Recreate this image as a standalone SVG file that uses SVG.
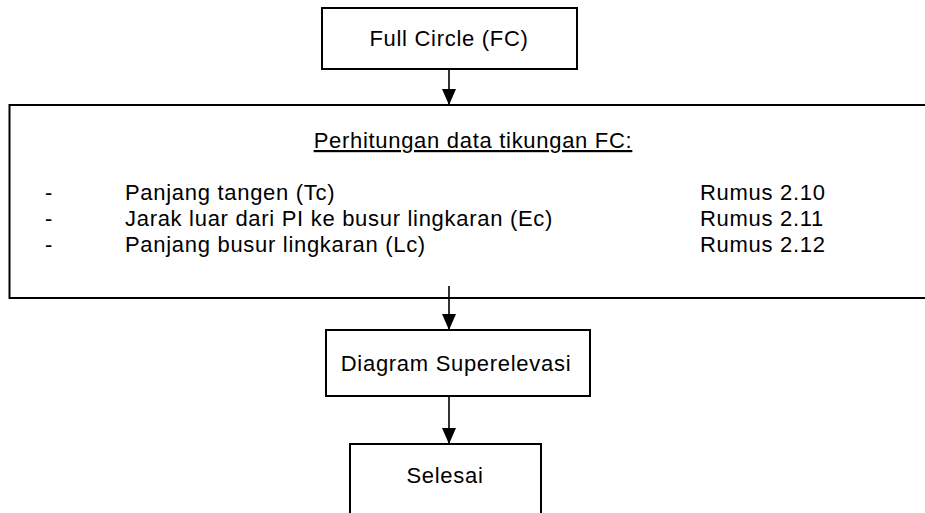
<svg xmlns="http://www.w3.org/2000/svg" width="925" height="513" viewBox="0 0 925 513">
<style>
.box{fill:#fff;stroke:#000;stroke-width:2}
.t{font-family:"Liberation Sans",Arial,sans-serif;font-size:22px;letter-spacing:0.7px;fill:#000}
.c{text-anchor:middle}
.ln{stroke:#000;stroke-width:2;fill:none}
.ar{stroke:#000;stroke-width:1.6;fill:none}
</style>
<defs>
<marker id="ah" markerWidth="16" markerHeight="14" refX="15" refY="7" orient="auto" markerUnits="userSpaceOnUse" viewBox="0 0 16 14">
<path d="M0,0 L16,7 L0,14 z" fill="#000"/>
</marker>
</defs>
<rect width="925" height="513" fill="#fff"/>
<g id="fc">
<rect class="box" x="322" y="8" width="255" height="61"/>
<text class="t c" x="449" y="46">Full Circle (FC)</text>
</g>
<g id="perhitungan">
<path class="ln" d="M930,105 H9.5 V298 H930"/>
<text class="t c" x="473" y="148" text-decoration="underline">Perhitungan data tikungan FC:</text>
<text class="t" x="45" y="200">-</text>
<text class="t" x="125" y="200">Panjang tangen (Tc)</text>
<text class="t" x="700" y="200">Rumus 2.10</text>
<text class="t" x="45" y="226">-</text>
<text class="t" x="125" y="226">Jarak luar dari PI ke busur lingkaran (Ec)</text>
<text class="t" x="700" y="226">Rumus 2.11</text>
<text class="t" x="45" y="252">-</text>
<text class="t" x="125" y="252">Panjang busur lingkaran (Lc)</text>
<text class="t" x="700" y="252">Rumus 2.12</text>
</g>
<g id="superelevasi">
<rect class="box" x="326" y="330" width="264" height="66"/>
<text class="t c" x="456" y="371">Diagram Superelevasi</text>
</g>
<g id="selesai">
<path class="ln" d="M350,520 V444 H541 V520"/>
<text class="t c" x="445" y="483">Selesai</text>
</g>
<g id="connectors">
<line class="ar" x1="449" y1="70" x2="449" y2="104" marker-end="url(#ah)"/>
<line class="ar" x1="449" y1="286" x2="449" y2="329" marker-end="url(#ah)"/>
<line class="ar" x1="449" y1="397" x2="449" y2="443" marker-end="url(#ah)"/>
</g>
</svg>
